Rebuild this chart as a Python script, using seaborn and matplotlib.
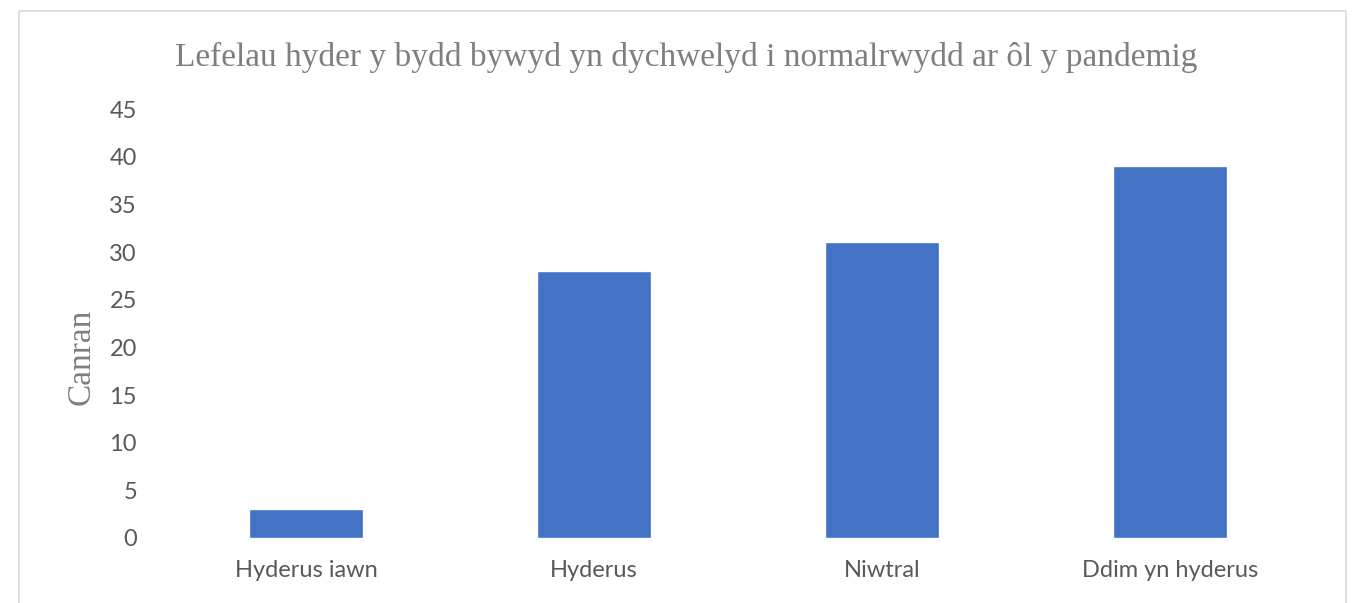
import pandas as pd
import matplotlib.pyplot as plt
import seaborn as sns
from matplotlib.patches import Rectangle

# data
categories = ['Hyderus iawn', 'Hyderus', 'Niwtral', 'Ddim yn hyderus']
values = [3, 28, 31, 39]

title = 'Lefelau hyder y bydd bywyd yn dychwelyd i normalrwydd ar ôl y pandemig'
ylabel = 'Canran'

df = pd.DataFrame({'cat': categories, 'val': values})

sns.set_theme(style='white')
plt.rcParams['font.family'] = ['Lato', 'DejaVu Sans']

fig = plt.figure(figsize=(13.58, 6.03), dpi=100)
ax = fig.add_axes([0.1193, 0.1078, 0.8483, 0.7114])

sns.barplot(data=df, x='cat', y='val', color='#4472C4', width=0.396,
            saturation=1, ax=ax)

ax.set_ylim(0, 45)
ax.set_yticks(range(0, 46, 5))
ax.set_xlim(-0.5, len(categories) - 0.5)
for s in ax.spines.values():
    s.set_visible(False)
ax.tick_params(axis='both', length=0, labelsize=17, labelcolor='#595959')
ax.tick_params(axis='x', pad=16)
ax.tick_params(axis='y', pad=18)
ax.set_xlabel('')
ax.set_ylabel(ylabel, fontsize=24, color='#7f7f7f', family=['Liberation Serif'])
ax.yaxis.set_label_coords(-0.057, 0.422)

fig.text(0.505, 0.905, title, ha='center', va='center', fontsize=24,
         color='#7f7f7f', family=['Liberation Serif'])

# chart frame
fig.patches.append(Rectangle((0.014, -0.02), 0.977, 1.002, transform=fig.transFigure,
                             fill=False, edgecolor='#D9D9D9', linewidth=1.2))

fig.savefig('out.png', dpi=100)
